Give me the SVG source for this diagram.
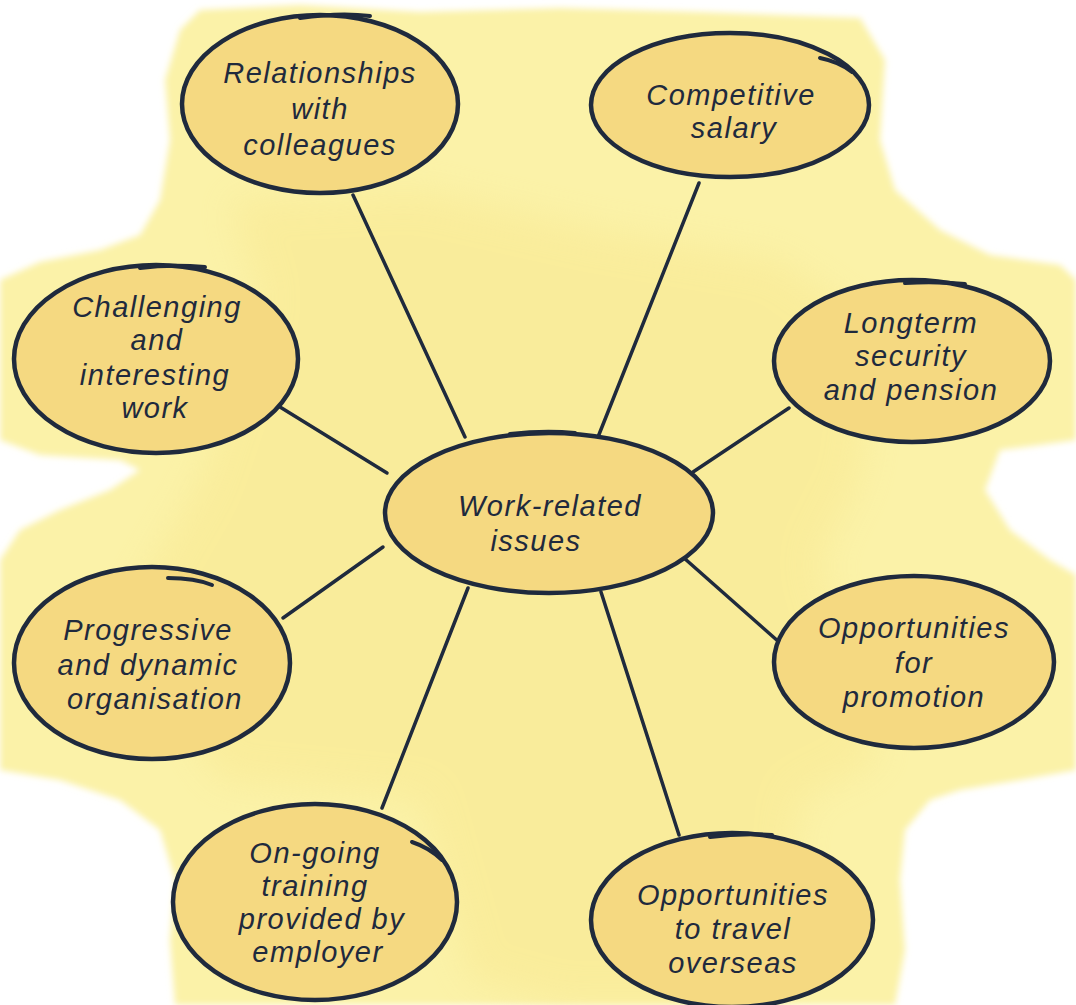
<svg xmlns="http://www.w3.org/2000/svg" width="1076" height="1005" viewBox="0 0 1076 1005">
  <defs>
    <filter id="soft" x="-5%" y="-5%" width="110%" height="110%">
      <feGaussianBlur stdDeviation="3"/>
    </filter>
    <filter id="softer" x="-10%" y="-10%" width="120%" height="120%">
      <feGaussianBlur stdDeviation="18"/>
    </filter>
    <style>
      .node ellipse { fill: #f5d981; stroke: #1f2a3d; stroke-width: 4.5; }
      .tail { fill: none; stroke: #1f2a3d; stroke-width: 4; stroke-linecap: round; }
      .lbl { font-family: "Liberation Sans", Arial, sans-serif; font-style: italic; font-size: 29px; letter-spacing: 1.5px; fill: #1f2a3d; text-anchor: middle; }
      #connectors line { stroke: #1f2a3d; stroke-width: 3.5; stroke-linecap: round; }
    </style>
  </defs>

  <rect width="1076" height="1005" fill="#ffffff"/>

  <g id="background">
    <path filter="url(#soft)" fill="#fbf2a8" d="M200,10 L300,5 L420,12 L560,8 L700,12 L860,18 L885,60 L880,140 L895,190 L940,230 L990,255 L1060,265 L1076,280 L1076,440 L1040,445 L1000,450 L985,490 L1010,530 L1050,560 L1076,575 L1076,770 L1020,780 L960,790 L930,800 L905,830 L900,880 L905,950 L895,1005 L175,1005 L170,940 L175,880 L160,830 L120,800 L60,780 L0,770 L0,560 L20,530 L60,510 L110,490 L140,470 L120,460 L40,455 L0,440 L0,280 L40,262 L100,250 L140,235 L160,200 L170,140 L165,80 L180,30 Z"/>
    <path filter="url(#softer)" fill="#f8e68c" opacity="0.45" d="M230,200 L420,190 L600,230 L780,260 L880,330 L860,480 L820,560 L880,760 L800,800 L780,1005 L560,1005 L470,980 L420,800 L220,780 L120,620 L200,480 L260,300 Z"/>
  </g>

  <g id="connectors">
    <line x1="353" y1="195" x2="465" y2="437"/>
    <line x1="699" y1="183" x2="598" y2="437"/>
    <line x1="280" y1="407" x2="387" y2="473"/>
    <line x1="789" y1="408" x2="693" y2="472"/>
    <line x1="283" y1="618" x2="383" y2="547"/>
    <line x1="779" y1="642" x2="684" y2="558"/>
    <line x1="382" y1="808" x2="468" y2="588"/>
    <line x1="679" y1="835" x2="601" y2="592"/>
  </g>

  <g id="node-relationships" class="node">
    <ellipse cx="320" cy="104" rx="138" ry="89"/>
    <path class="tail" d="M300,18 Q340,12 370,16"/>
    <text class="lbl"><tspan x="320" y="83">Relationships</tspan><tspan x="320" y="119">with</tspan><tspan x="320" y="155">colleagues</tspan></text>
  </g>

  <g id="node-salary" class="node">
    <ellipse cx="730" cy="105" rx="139" ry="72"/>
    <path class="tail" d="M820,58 Q840,62 852,72"/>
    <text class="lbl"><tspan x="731" y="105">Competitive</tspan><tspan x="734" y="138">salary</tspan></text>
  </g>

  <g id="node-challenging" class="node">
    <ellipse cx="156" cy="359" rx="142" ry="94"/>
    <path class="tail" d="M140,268 Q170,264 205,267"/>
    <text class="lbl"><tspan x="157" y="317">Challenging</tspan><tspan x="157" y="350">and</tspan><tspan x="155" y="385">interesting</tspan><tspan x="155" y="418">work</tspan></text>
  </g>

  <g id="node-longterm" class="node">
    <ellipse cx="912" cy="361" rx="138" ry="81"/>
    <path class="tail" d="M905,283 Q935,281 965,284"/>
    <text class="lbl"><tspan x="911" y="333">Longterm</tspan><tspan x="911" y="366">security</tspan><tspan x="911" y="400">and pension</tspan></text>
  </g>

  <g id="node-center" class="node">
    <ellipse cx="549" cy="513" rx="164" ry="80"/>
    <path class="tail" d="M510,434 Q545,430 575,433"/>
    <text class="lbl"><tspan x="550" y="516">Work-related</tspan><tspan x="536" y="551">issues</tspan></text>
  </g>

  <g id="node-progressive" class="node">
    <ellipse cx="152" cy="663" rx="138" ry="96"/>
    <path class="tail" d="M168,578 Q195,578 212,585"/>
    <text class="lbl"><tspan x="148" y="640">Progressive</tspan><tspan x="148" y="675">and dynamic</tspan><tspan x="155" y="709">organisation</tspan></text>
  </g>

  <g id="node-promotion" class="node">
    <ellipse cx="914" cy="662" rx="140" ry="86"/>
    <text class="lbl"><tspan x="914" y="638">Opportunities</tspan><tspan x="914" y="673">for</tspan><tspan x="914" y="707">promotion</tspan></text>
  </g>

  <g id="node-training" class="node">
    <ellipse cx="315" cy="902" rx="142" ry="98"/>
    <path class="tail" d="M412,842 Q430,848 442,860"/>
    <text class="lbl"><tspan x="315" y="863">On-going</tspan><tspan x="315" y="896">training</tspan><tspan x="322" y="929">provided by</tspan><tspan x="318" y="962">employer</tspan></text>
  </g>

  <g id="node-travel" class="node">
    <ellipse cx="732" cy="920" rx="141" ry="87"/>
    <path class="tail" d="M710,837 Q740,833 772,835"/>
    <text class="lbl"><tspan x="733" y="905">Opportunities</tspan><tspan x="733" y="939">to travel</tspan><tspan x="733" y="973">overseas</tspan></text>
  </g>
</svg>
